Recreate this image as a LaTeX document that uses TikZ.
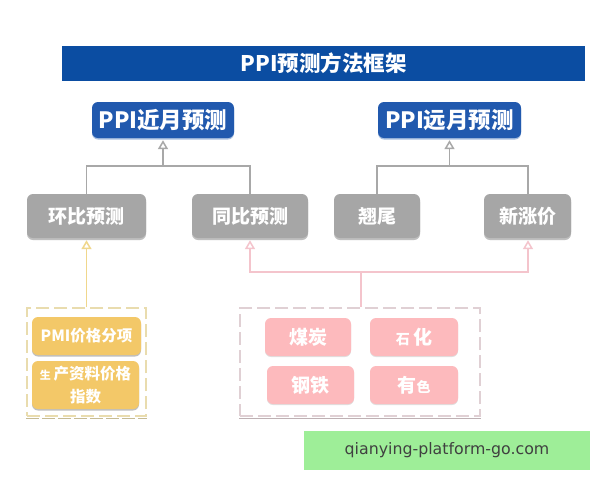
\documentclass[tikz,border=0pt]{standalone}
\usepackage{fontspec}
\usetikzlibrary{arrows.meta,shadows}
\setmainfont{Noto Sans CJK SC}
\newfontfamily\wmfont{DejaVu Sans}
\definecolor{titleblue}{HTML}{0B4DA2}
\definecolor{headblue}{HTML}{2159AE}
\definecolor{midgray}{HTML}{A6A6A6}
\definecolor{linegray}{HTML}{A8A8A8}
\definecolor{amber}{HTML}{F3C868}
\definecolor{amberline}{HTML}{F0D78C}
\definecolor{amberdash}{HTML}{E9DCAE}
\definecolor{rose}{HTML}{FDBABD}
\definecolor{roseline}{HTML}{F4C4CC}
\definecolor{rosedash}{HTML}{E0D0D4}
\definecolor{mark}{HTML}{9EEE98}
\tikzset{
  x=1pt,y=-1pt,
  boxed/.style={rounded corners=6pt,inner sep=0pt,align=center,text=white,font=\bfseries},
  head/.style={boxed,fill=headblue,font=\fontsize{22.5}{25}\selectfont\bfseries,
    drop shadow={shadow xshift=0pt,shadow yshift=-1.5pt,fill=headblue!40,opacity=1}},
  graybox/.style={boxed,fill=midgray,font=\fontsize{19}{22}\selectfont\bfseries,
    drop shadow={shadow xshift=0pt,shadow yshift=-2pt,fill=black!25,opacity=1}},
  ambox/.style={boxed,fill=amber,font=\fontsize{15.5}{23}\selectfont\bfseries,
    drop shadow={shadow xshift=0pt,shadow yshift=-1.5pt,fill=black!25,opacity=1}},
  rosebox/.style={boxed,fill=rose,font=\fontsize{19}{22}\selectfont\bfseries,
    drop shadow={shadow xshift=0pt,shadow yshift=-1pt,fill=black!12,opacity=1}},
  group/.style={dash pattern=on 13pt off 5pt,line width=2pt,inner sep=0pt},
  link/.style={line width=1.5pt,-{Triangle[open,length=9pt,width=10pt,fill=white]}},
  plain/.style={line width=1.5pt},
}
\newcommand{\bx}[6]{\node[#1,minimum width=#4pt-#3pt,minimum height=#6pt-#5pt,anchor=center] (#2) at ({(#3+#4)/2},{(#5+#6)/2})}
\begin{document}
\begin{tikzpicture}
\useasboundingbox (0,0) rectangle (600,480);
\fill[white] (0,0) rectangle (600,480);
\bx{boxed,rounded corners=0pt,fill=titleblue,font=\fontsize{21.5}{24}\selectfont\bfseries}{title}{62}{585}{46}{81} {PPI预测方法框架};
\bx{head}{near}{92}{234}{102}{138} {PPI近月预测};
\bx{head}{far}{378}{521}{102}{138} {PPI远月预测};
\bx{graybox}{hb}{27}{146}{194}{238} {环比预测};
\bx{graybox}{tb}{192}{308}{194}{238} {同比预测};
\bx{graybox}{qw}{334}{420}{194}{238} {翘尾};
\bx{graybox}{xz}{484}{571}{194}{238} {新涨价};
\bx{group,draw=amberdash}{ygroup}{27}{146}{308}{416} {};
\bx{group,draw=rosedash}{rgroup}{240}{480}{308}{416} {};
\draw[line width=1.5pt,amberdash!85!black,dash pattern=on 13pt off 3pt] ([yshift=-1.5pt]ygroup.south west) -- ([yshift=-1.5pt]ygroup.south east);
\draw[line width=1.5pt,rosedash!85!black] ([yshift=-1.5pt]rgroup.south west) -- ([yshift=-1.5pt]rgroup.south east);
\bx{ambox}{pmi}{32}{141}{317}{355} {PMI价格分项};
\bx{ambox}{ppi}{32}{139}{361}{409} {{\fontsize{11}{23}\selectfont 生 }产资料价格\\指数};
\bx{rosebox}{coal}{265}{351}{318}{356} {煤炭};
\bx{rosebox}{petro}{370}{458}{318}{356} {{\fontsize{14}{22}\selectfont 石 }化};
\bx{rosebox}{steel}{267}{354}{366}{404} {钢铁};
\bx{rosebox}{metal}{370}{458}{366}{404} {有{\fontsize{14}{22}\selectfont 色}};
\bx{inner sep=0pt,fill=mark,font=\wmfont\fontsize{15.8}{18}\selectfont,text=black!75}{wm}{304}{590}{431}{470} {qianying-platform-go.com};
% grey connectors
\coordinate (j1) at (near.south |- 0,166);
\coordinate (j2) at (far.south |- 0,166);
\coordinate (j3) at (rgroup.north -| 361,0);
\coordinate (j4) at (361,272);
\coordinate (tbx) at (250,0);
\coordinate (qwx) at (377,0);
\coordinate (xzx) at (528,0);
\draw[plain,linegray] (hb.north) |- (j1);
\draw[plain,linegray] (tb.north) |- (j1);
\draw[link,linegray] (j1) -- ([yshift=-2pt]near.south);
\draw[plain,linegray] (qw.north) |- (j2);
\draw[plain,linegray] (xz.north -| xzx) |- (j2);
\draw[link,linegray] (j2) -- ([yshift=-2pt]far.south);
% yellow
\draw[link,amberline] (ygroup.north) -- ([yshift=-2pt]hb.south);
% pink
\draw[plain,roseline] (j3) -- (j4);
\draw[link,roseline] (j4) -| ([yshift=-2pt]tb.south);
\draw[link,roseline] (j4) -| ([yshift=-2pt]xz.south -| xzx);
\end{tikzpicture}
\end{document}
